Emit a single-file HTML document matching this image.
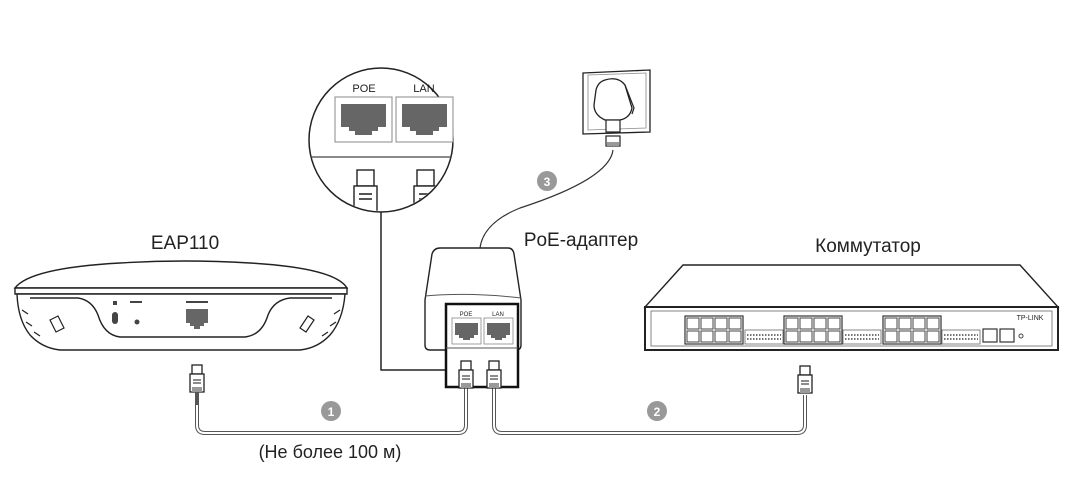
<!DOCTYPE html>
<html><head><meta charset="utf-8"><style>
html,body{margin:0;padding:0;background:#fff}
svg{display:block}
text{font-family:"Liberation Sans",sans-serif;fill:#222}
</style></head><body>
<svg width="1084" height="493" viewBox="0 0 1084 493" xmlns="http://www.w3.org/2000/svg">
<defs>
<clipPath id="cc"><circle cx="381" cy="140" r="71"/></clipPath>
<g id="plug">
 <rect x="-5" y="0" width="10" height="9" fill="#fff" stroke="#222" stroke-width="1.3"/>
 <rect x="-7" y="9" width="14" height="18" fill="#fff" stroke="#222" stroke-width="1.3"/>
 <line x1="-4" y1="15" x2="4" y2="15" stroke="#666" stroke-width="1.5"/>
 <line x1="-4" y1="18" x2="4" y2="18" stroke="#666" stroke-width="1.5"/>
 <rect x="-5" y="22" width="10" height="5" fill="#999"/>
</g>
<g id="rj">
 <path d="M0 0h22v14h-4v3h-4v3h-6v-3h-4v-3h-4z" fill="#666"/>
</g>
<g id="sw8">
 <rect x="0" y="0" width="58" height="28" fill="#fff" stroke="#333" stroke-width="1.2"/>
 <g fill="none" stroke="#444" stroke-width="1">
 <rect x="2" y="2" width="12" height="11"/><rect x="16" y="2" width="12" height="11"/><rect x="30" y="2" width="12" height="11"/><rect x="44" y="2" width="12" height="11"/>
 <rect x="2" y="15" width="12" height="11"/><rect x="16" y="15" width="12" height="11"/><rect x="30" y="15" width="12" height="11"/><rect x="44" y="15" width="12" height="11"/>
 </g>
</g>
<g id="leds">
 <rect x="0" y="0" width="38" height="14" fill="#fff" stroke="#666" stroke-width="0.8"/>
 <line x1="2" y1="5" x2="36" y2="5" stroke="#444" stroke-width="1.5" stroke-dasharray="1.5 1.5"/>
 <line x1="2" y1="9" x2="36" y2="9" stroke="#444" stroke-width="1.5" stroke-dasharray="1.5 1.5"/>
</g>
</defs>

<g fill="none" stroke-linejoin="round">
 <path d="M197 405 V425 Q197 433 205 433 H458 Q466 433 466 425 V388" stroke="#555" stroke-width="4"/>
 <path d="M197 405 V425 Q197 433 205 433 H458 Q466 433 466 425 V388" stroke="#fff" stroke-width="2"/>
 <path d="M494 388 V425 Q494 433 502 433 H797 Q805 433 805 425 V395" stroke="#555" stroke-width="4"/>
 <path d="M494 388 V425 Q494 433 502 433 H797 Q805 433 805 425 V395" stroke="#fff" stroke-width="2"/>
 <path d="M613 150 C610 175 560 195 520 208 C495 218 482 232 480 248" stroke="#333" stroke-width="1.2"/>
 <path d="M381 212 V370 H446" stroke="#222" stroke-width="1.5"/>
</g>

<text x="185" y="249" font-size="19" text-anchor="middle">EAP110</text>
<g stroke="#222" stroke-width="1.4" fill="#fff">
 <path d="M15 288 Q30 268 120 263 Q185 259 250 263 Q335 268 347 288 Z"/>
 <path d="M15 288 H347 V294 H15 Z"/>
 <path d="M17 294 H345 Q343 320 330 335 Q318 348 300 350 H60 Q42 348 30 335 Q18 320 17 294 Z"/>
 <path d="M30 298 H78 Q92 300 98 315 Q104 335 120 337 H245 Q262 335 268 315 Q274 300 290 298 H332" fill="none"/>
</g>
<g fill="#444">
 <rect x="112" y="312" width="6" height="12" rx="3"/>
 <circle cx="137" cy="322" r="2.5"/>
 <rect x="113" y="301" width="4" height="4"/>
 <rect x="130" y="301" width="12" height="2"/>
 <rect x="186" y="301" width="22" height="2"/>
</g>
<use href="#rj" x="186" y="309"/>
<g stroke="#222" stroke-width="1.2" fill="none">
 <path d="M50 320 l8 -4 l6 12 l-8 4 z"/><path d="M300 328 l8 -12 l6 4 l-8 12 z"/>
 <path d="M22 310 l6 4 M26 322 l6 4 M34 332 l6 4 M340 310 l-6 4 M336 322 l-6 4 M328 332 l-6 4"/>
</g>
<use href="#plug" x="197" y="365"/>
<line x1="197" y1="392" x2="197" y2="405" stroke="#555" stroke-width="4"/>

<circle cx="381" cy="140" r="72" fill="#fff" stroke="#222" stroke-width="1.5"/>
<line x1="311" y1="157" x2="451" y2="157" stroke="#444" stroke-width="1.2"/>
<text x="364" y="92" font-size="11" text-anchor="middle">POE</text>
<text x="424" y="92" font-size="11" text-anchor="middle">LAN</text>
<rect x="335" y="97" width="57" height="45" fill="#fff" stroke="#888" stroke-width="1"/>
<rect x="396" y="97" width="57" height="45" fill="#fff" stroke="#888" stroke-width="1"/>
<path d="M341 104h45v23h-8v4h-6v4h-17v-4h-6v-4h-8z" fill="#666"/>
<path d="M402 104h45v23h-8v4h-6v4h-17v-4h-6v-4h-8z" fill="#666"/>
<g clip-path="url(#cc)">
<g stroke="#222" stroke-width="1.4" fill="#fff">
 <rect x="357" y="170" width="17" height="16"/><rect x="354" y="186" width="23" height="40"/>
 <rect x="417" y="170" width="17" height="16"/><rect x="414" y="186" width="23" height="40"/>
</g>
<g stroke="#555" stroke-width="2"><line x1="359" y1="194" x2="372" y2="194"/><line x1="359" y1="199" x2="372" y2="199"/><line x1="419" y1="194" x2="432" y2="194"/><line x1="419" y1="199" x2="432" y2="199"/></g>
</g>

<path d="M583 73 L650 70 L650 132 L583 134 Z" fill="#fff" stroke="#222" stroke-width="1.3"/>
<path d="M588 75 L646 73 L646 128 L588 130 Z" fill="none" stroke="#888" stroke-width="0.8"/>
<path d="M605 80 Q618 76 625 85 L632 108 Q630 118 620 120 L605 120 Q594 115 594 105 L596 90 Q598 82 605 80 Z" fill="#fff" stroke="#222" stroke-width="1.3"/>
<path d="M625 85 L634 108 L632 114" fill="none" stroke="#222" stroke-width="1.2"/>
<rect x="606" y="120" width="14" height="12" fill="#fff" stroke="#222" stroke-width="1.2"/>
<rect x="606" y="136" width="14" height="10" fill="#fff" stroke="#222" stroke-width="1.2"/>
<rect x="607" y="142" width="12" height="4" fill="#999"/>
<circle cx="547" cy="181" r="10" fill="#999"/>
<text x="547" y="186" font-size="12" font-weight="bold" text-anchor="middle" style="fill:#fff">3</text>

<text x="581" y="246" font-size="19" text-anchor="middle">PoE-адаптер</text>
<path d="M440 248 H508 Q513 248 514 254 L521 300 V345 Q521 350 516 350 H430 Q425 350 425 345 V300 L432 254 Q434 248 440 248 Z" fill="#fff" stroke="#222" stroke-width="1.4"/>
<path d="M425 296 Q470 292 521 298" fill="none" stroke="#555" stroke-width="1"/>
<rect x="446" y="304" width="72" height="83" fill="#fff" stroke="#111" stroke-width="2.5"/>
<rect x="452" y="318" width="29" height="26" fill="#fff" stroke="#888" stroke-width="0.8"/>
<rect x="484" y="318" width="29" height="26" fill="#fff" stroke="#888" stroke-width="0.8"/>
<path d="M455 323h23v12h-4v3h-4v2h-7v-2h-4v-3h-4z" fill="#666"/>
<path d="M487 323h23v12h-4v3h-4v2h-7v-2h-4v-3h-4z" fill="#666"/>
<text x="466" y="316" font-size="6" text-anchor="middle">POE</text>
<text x="498" y="316" font-size="6" text-anchor="middle">LAN</text>
<line x1="446" y1="348" x2="518" y2="348" stroke="#555" stroke-width="1"/>
<use href="#plug" x="466" y="361"/>
<use href="#plug" x="494" y="361"/>

<circle cx="331" cy="411" r="10" fill="#999"/>
<text x="331" y="416" font-size="12" font-weight="bold" text-anchor="middle" style="fill:#fff">1</text>
<circle cx="657" cy="411" r="10" fill="#999"/>
<text x="657" y="416" font-size="12" font-weight="bold" text-anchor="middle" style="fill:#fff">2</text>
<text x="330" y="458" font-size="18" text-anchor="middle">(Не более 100 м)</text>

<text x="868" y="252" font-size="19" text-anchor="middle">Коммутатор</text>
<path d="M683 265 H1020 L1058 307 H645 Z" fill="#fff" stroke="#222" stroke-width="1.4"/>
<rect x="645" y="307" width="413" height="43" fill="#fff" stroke="#222" stroke-width="2"/>
<rect x="651" y="311" width="401" height="35" fill="none" stroke="#666" stroke-width="0.8"/>
<use href="#sw8" x="685" y="316"/>
<use href="#sw8" x="784" y="316"/>
<use href="#sw8" x="883" y="316"/>
<use href="#leds" x="745" y="330"/>
<use href="#leds" x="843" y="330"/>
<use href="#leds" x="942" y="330"/>
<rect x="983" y="329" width="14" height="13" fill="#fff" stroke="#333" stroke-width="1.2"/>
<rect x="1000" y="329" width="14" height="13" fill="#fff" stroke="#333" stroke-width="1.2"/>
<circle cx="1021" cy="336" r="2" fill="none" stroke="#444"/>
<text x="1030" y="320" font-size="7" text-anchor="middle">TP-LINK</text>
<use href="#plug" x="805" y="366"/>
</svg>
</body></html>
